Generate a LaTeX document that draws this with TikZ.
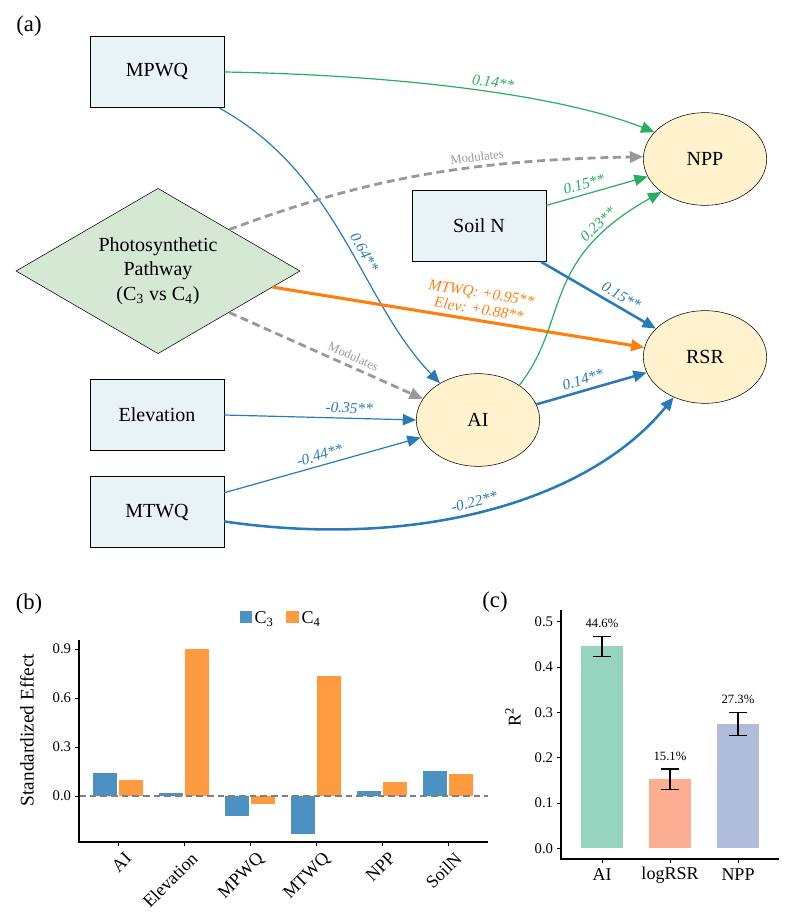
\documentclass[tikz,border=0pt]{standalone}
\usepackage{fontspec}
\setmainfont{Liberation Serif}
\usepackage{tikz}
\usetikzlibrary{arrows.meta,shapes.geometric}

\definecolor{boxblue}{RGB}{232,243,248}
\definecolor{respyellow}{RGB}{255,242,204}
\definecolor{pathgreen}{RGB}{213,232,212}
\definecolor{linkgreen}{RGB}{39,174,96}
\definecolor{linkblue}{RGB}{40,122,185}
\definecolor{linkorange}{RGB}{255,127,14}
\definecolor{linkgray}{RGB}{153,153,153}
\definecolor{cthree}{RGB}{75,146,195}
\definecolor{cfour}{RGB}{255,155,62}
\definecolor{barai}{RGB}{150,212,192}
\definecolor{barrsr}{RGB}{251,174,145}
\definecolor{barnpp}{RGB}{175,188,218}

\begin{document}
\begin{tikzpicture}[x=0.75pt,y=-0.75pt,
	var/.style={draw,fill=boxblue,minimum width=100.5pt,minimum height=53.5pt,font=\fontsize{15}{18}\selectfont},
	resp/.style={draw,ellipse,fill=respyellow,minimum width=92.5pt,minimum height=69.5pt,font=\fontsize{15}{18}\selectfont},
	tip/.style={-{Triangle[length=10pt,width=8.5pt]}},
	greenlink/.style={tip,draw=linkgreen,line width=0.9pt},
	bluelink/.style={tip,draw=linkblue,line width=0.9pt},
	blueheavy/.style={tip,draw=linkblue,line width=1.9pt},
	orangeheavy/.style={tip,draw=linkorange,line width=2.3pt},
	graymod/.style={tip,draw=linkgray,line width=2.1pt,dash pattern=on 6pt off 3.5pt},
	coef/.style={sloped,above,font=\itshape\fontsize{11.5}{12.5}\selectfont},
	modtext/.style={sloped,above,text=linkgray,font=\fontsize{9.5}{11}\selectfont},
	panel/.style={font=\fontsize{17}{20}\selectfont},
	tick/.style={font=\fontsize{11}{13}\selectfont},
	axlabel/.style={font=\fontsize{13.5}{16}\selectfont}
]

	\useasboundingbox (0,0) rectangle (796,916);

	\node[panel] (laba) at (29,26) {(a)};

	\node[var] (mpwq) at (157,72) {MPWQ};
	\node[var] (soiln) at (479,226) {Soil N};
	\node[var] (elev) at (157,415) {Elevation};
	\node[var] (mtwq) at (157,512) {MTWQ};
	\node[draw,diamond,fill=pathgreen,aspect=1.72,minimum width=213pt,minimum height=124pt,inner sep=0pt,align=center,font=\fontsize{15}{18.4}\selectfont] (pp) at (158,271) {Photosynthetic\\Pathway\\(C\textsubscript{3} vs C\textsubscript{4})};
	\node[resp] (npp) at (705,159) {NPP};
	\node[resp] (rsr) at (705,357) {RSR};
	\node[resp] (ai) at (478,420) {AI};

	\draw[greenlink] (mpwq.east) .. controls (400,75) and (560,95) .. (npp.152) node[coef,pos=0.55,text=linkgreen] (cmn) {0.14**};
	\draw[bluelink] (mpwq.-30) .. controls (340,175) and (360,300) .. (ai.136) node[coef,pos=0.56,text=linkblue] (cma) {0.64**};
	\draw[graymod] (pp.north east) .. controls (350,185) and (450,160) .. (npp.178) node[modtext,pos=0.67] (mn) {Modulates};
	\draw[graymod] (pp.south east) -- (ai.159) node[modtext,pos=0.62] (ma) {Modulates};
	\draw[orangeheavy] (pp.-8) -- (rsr.171) node[coef,pos=0.55,align=center,text=linkorange] (cpr) {MTWQ: +0.95**\\Elev: +0.88**};
	\draw[greenlink] (soiln.17) -- (npp.197) node[coef,pos=0.4,text=linkgreen] (csn) {0.15**};
	\draw[greenlink] (ai.40) .. controls (570,320) and (540,260) .. (npp.217) node[coef,pos=0.8,text=linkgreen] (can) {0.23**};
	\draw[blueheavy] (soiln.-30) -- (rsr.150) node[coef,pos=0.65,text=linkblue] (csr) {0.15**};
	\draw[blueheavy] (ai.15) -- (rsr.195) node[coef,pos=0.45,text=linkblue] (car) {0.14**};
	\draw[bluelink] (elev.east) -- (ai.180) node[coef,pos=0.65,text=linkblue] (cea) {-0.35**};
	\draw[bluelink] (mtwq.16) -- (ai.197) node[coef,pos=0.5,text=linkblue] (cta) {-0.44**};
	\draw[blueheavy] (mtwq.-8) .. controls (420,550) and (590,500) .. (rsr.232) node[coef,pos=0.47,text=linkblue] (ctr) {-0.22**};

	\node[panel] (labb) at (29,604) {(b)};
	\fill[cthree] (240,611) rectangle (252,623);
	\node[axlabel,anchor=west,inner sep=1pt] (legthree) at (253,619) {C\textsubscript{3}};
	\fill[cfour] (286,611) rectangle (299,623);
	\node[axlabel,anchor=west,inner sep=1pt] (legfour) at (300,619) {C\textsubscript{4}};

	\foreach \c/\a/\b [count=\i] in {AI/0.141/0.098,Elevation/0.018/0.90,MPWQ/-0.12/-0.047,MTWQ/-0.23/0.735,NPP/0.031/0.086,SoilN/0.153/0.135} {
		\fill[cthree] ({118+66*(\i-1)-25},796) rectangle ({118+66*(\i-1)-1},{796-163.3*\a});
		\fill[cfour] ({118+66*(\i-1)+1},796) rectangle ({118+66*(\i-1)+25},{796-163.3*\b});
		\draw ({118+66*(\i-1)},842) -- ({118+66*(\i-1)},846);
		\node[axlabel,rotate=45,anchor=north east,inner sep=1pt] (cat\i) at ({118+66*(\i-1)+6},849) {\c};
	}
	\draw[gray,line width=0.9pt,dash pattern=on 5pt off 3pt] (79,796) -- (488,796);
	\draw[line width=0.8pt] (79,640) -- (79,842) -- (488,842);
	\foreach \v [count=\i] in {0.0,0.3,0.6,0.9} {
		\draw (75,{796-163.3*\v}) -- (79,{796-163.3*\v});
		\node[tick,anchor=east,inner sep=2pt] (yb\i) at (74,{796-163.3*\v}) {\v};
	}
	\node[font=\fontsize{14.5}{17}\selectfont,rotate=90] (ylabb) at (27,730) {Standardized Effect};

	\node[panel] (labc) at (495,602) {(c)};
	\foreach \c/\f/\v/\lo/\hi/\p [count=\i] in {AI/barai/0.446/0.423/0.467/44.6,logRSR/barrsr/0.152/0.129/0.175/15.1,NPP/barnpp/0.274/0.248/0.299/27.3} {
		\fill[\f] ({602+68*(\i-1)-21},848.3) rectangle ({602+68*(\i-1)+21},{848.3-453.3*\v});
		\draw[line width=0.8pt] ({602+68*(\i-1)},{848.3-453.3*\lo}) -- ({602+68*(\i-1)},{848.3-453.3*\hi});
		\draw[line width=0.8pt] ({602+68*(\i-1)-9},{848.3-453.3*\lo}) -- ({602+68*(\i-1)+9},{848.3-453.3*\lo});
		\draw[line width=0.8pt] ({602+68*(\i-1)-9},{848.3-453.3*\hi}) -- ({602+68*(\i-1)+9},{848.3-453.3*\hi});
		\node[font=\fontsize{9.5}{11}\selectfont] (pct\i) at ({602+68*(\i-1)},{848.3-453.3*\hi-13}) {\p\%};
		\draw ({602+68*(\i-1)},859) -- ({602+68*(\i-1)},863);
		\node[axlabel] (xc\i) at ({602+68*(\i-1)},875) {\c};
	}
	\draw[line width=0.8pt] (561,610) -- (561,859) -- (779,859);
	\foreach \v [count=\i] in {0.0,0.1,0.2,0.3,0.4,0.5} {
		\draw (557,{848.3-453.3*\v}) -- (561,{848.3-453.3*\v});
		\node[tick,anchor=east,inner sep=2pt] (yc\i) at (556,{848.3-453.3*\v}) {\v};
	}
	\node[axlabel,rotate=90] (ylabc) at (513,717) {R\textsuperscript{2}};

\end{tikzpicture}
\end{document}
